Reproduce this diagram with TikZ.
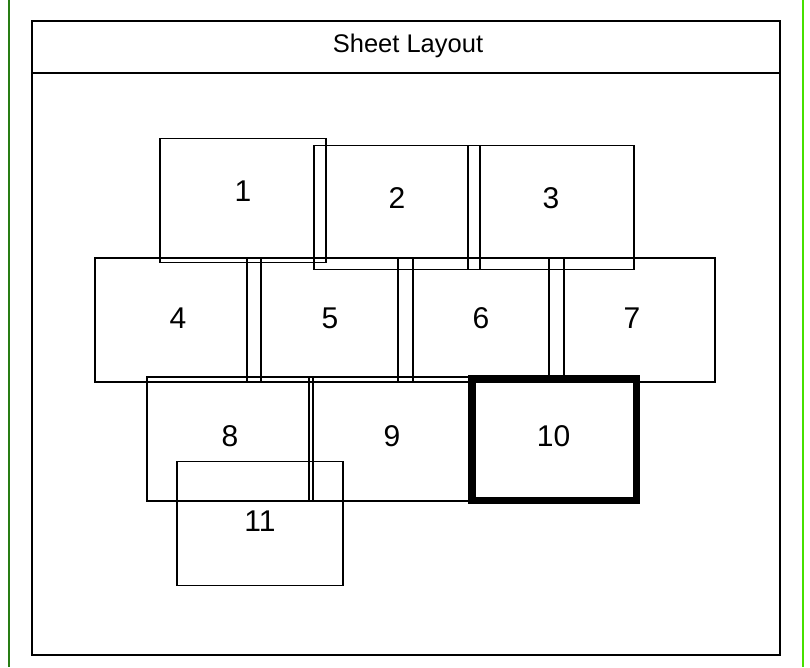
\documentclass[tikz,border=0pt]{standalone}
\usepackage{fontspec}
\setmainfont{Liberation Sans}
\begin{document}
\begin{tikzpicture}[x=1pt,y=-1pt,
  sheet/.style={draw=black,line width=1.8pt,minimum width=166pt,minimum height=124pt,inner sep=0pt,anchor=center},
  current/.style={sheet,line width=7pt,line join=miter,minimum width=165pt,minimum height=122pt},
  num/.style={font=\fontsize{30}{35}\selectfont,inner sep=0pt,anchor=center},
  ttl/.style={font=\fontsize{25.5}{30}\selectfont,inner sep=0pt,anchor=center},
  frame/.style={draw=black,line width=1.8pt}]
\useasboundingbox (0,0) rectangle (810,667);
\fill[white] (0,0) rectangle (810,667);
% side borders
\draw[line width=2pt,draw={rgb,255:red,40;green,125;blue,20}] (8.5,0) -- (8.5,667);
\draw[line width=2pt,draw={rgb,255:red,70;green,225;blue,0}] (802.5,0) -- (802.5,667);
% outer frame and title
\node[frame,minimum width=748pt,minimum height=634pt,inner sep=0pt] (frm) at (406,338) {};
\coordinate (sepL) at (32,73);
\coordinate (sepR) at (780,73);
\draw[line width=1.8pt] (sepL) -- (sepR);
\node[ttl] (title) at (408,46) {Sheet Layout};
% sheets
\node[sheet] (b1) at (243,200.5) {};
\node[sheet] (b2) at (397,207.5) {};
\node[sheet] (b3) at (551,207.5) {};
\node[sheet] (b4) at (178,320) {};
\node[sheet] (b5) at (330,320) {};
\node[sheet] (b6) at (481,320) {};
\node[sheet] (b7) at (632,320) {};
\node[sheet] (b8) at (230,439) {};
\node[sheet] (b9) at (392,439) {};
\node[current] (b10) at (553.5,439) {};
\node[sheet] (b11) at (260,523.5) {};
% labels
\node[num] (l1) at ([yshift=9pt]b1.center) {1};
\node[num] (l2) at ([yshift=9pt]b2.center) {2};
\node[num] (l3) at ([yshift=9pt]b3.center) {3};
\node[num] (l4) at ([yshift=2pt]b4.center) {4};
\node[num] (l5) at ([yshift=2pt]b5.center) {5};
\node[num] (l6) at ([yshift=2pt]b6.center) {6};
\node[num] (l7) at ([yshift=2pt]b7.center) {7};
\node[num] (l8) at ([yshift=3pt]b8.center) {8};
\node[num] (l9) at ([yshift=3pt]b9.center) {9};
\node[num] (l10) at ([yshift=3pt]b10.center) {10};
\node[num] (l11) at ([yshift=2pt]b11.center) {11};
\end{tikzpicture}
\end{document}
